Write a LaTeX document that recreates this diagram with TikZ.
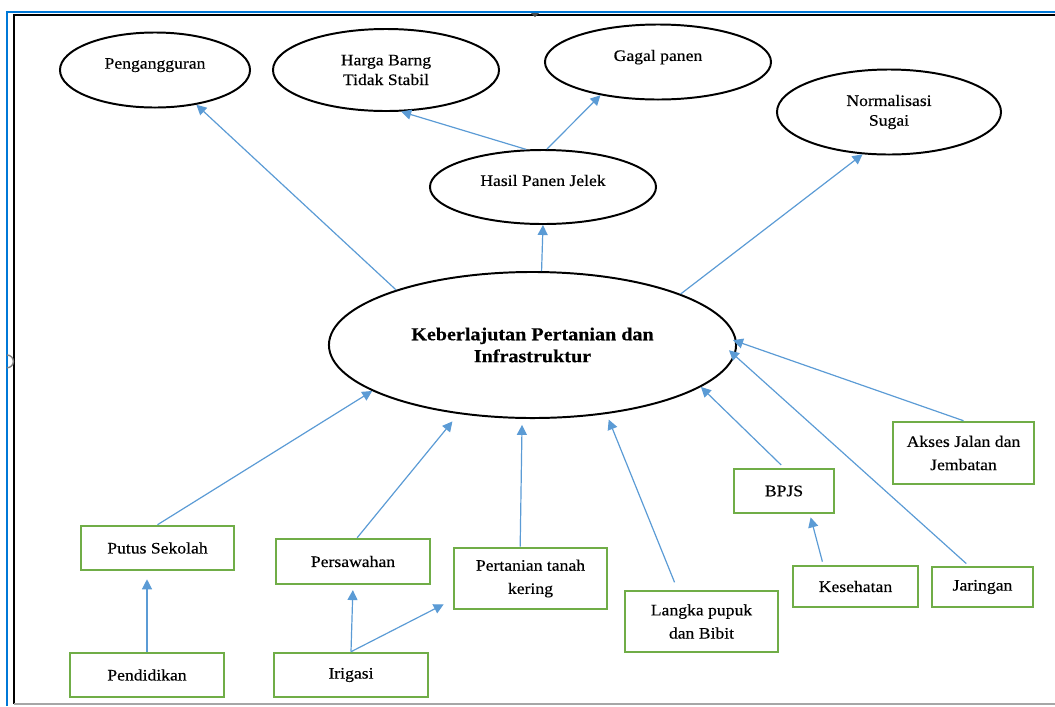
\documentclass[tikz,border=0pt]{standalone}
\usepackage{fontspec}
\setmainfont[FakeStretch=1.1,FakeBold=0.35]{Liberation Serif}
\usetikzlibrary{shapes.geometric,arrows.meta}

\definecolor{linkblue}{HTML}{5B9BD5}
\definecolor{boxgreen}{HTML}{70AD47}
\definecolor{frameblue}{RGB}{0,120,215}

\begin{document}
\begin{tikzpicture}[x=0.025cm,y=-0.025cm]

		\tikzstyle{effect} = [ellipse, draw, line width=1.4pt, align=center, inner sep=0pt, font=\fontsize{11.4}{14}\selectfont]
		
		\tikzstyle{factor} = [rectangle, draw=boxgreen, line width=1.8pt, align=center, inner sep=0pt, font=\fontsize{11.4}{16.5}\selectfont]
		
		\tikzstyle{links} = [-{Triangle[length=0.25cm,width=0.25cm]}, color=linkblue, line width=0.85pt]
		
		\useasboundingbox (0,0) rectangle (1055,706);
		
		% page frame
		\draw[frameblue, line width=1.2pt] (7,706) -- (7,12) -- (1055,12);
		\draw[black, line width=1.1pt] (14,704) -- (14,15) -- (1055,15);
		\draw[gray!70, line width=0.8pt] (14,704) -- (1055,704);
		\fill[gray!60!black] (531,13) -- (539,13) -- (535,17) -- cycle;
		\draw[gray, line width=1pt] (7,355) arc[start angle=90, end angle=-90, radius=0.16cm];
		
		\node[effect, minimum width=4.75cm, minimum height=1.875cm, text depth=0.33cm] at (155,70) (peng) {Pengangguran};
		\node[effect, minimum width=5.65cm, minimum height=2.05cm] at (386,70) (harga) {Harga Barng\\Tidak Stabil};
		\node[effect, minimum width=5.65cm, minimum height=1.875cm, text depth=0.33cm] at (658,62) (gagal) {Gagal panen};
		\node[effect, minimum width=5.6cm, minimum height=2.125cm] at (889,112) (normal) {Normalisasi\\Sugai};
		\node[effect, minimum width=5.65cm, minimum height=1.85cm, text depth=0.33cm] at (543,187) (hasil) {Hasil Panen Jelek};
		
		\node[effect, minimum width=10.175cm, minimum height=3.65cm, font=\bfseries\fontsize{13}{15.6}\selectfont] at (532.5,345) (pusat) {Keberlajutan Pertanian dan\\Infrastruktur};
		
		\node[factor, minimum width=3.825cm, minimum height=1.1cm] at (157.5,548) (putus) {Putus Sekolah};
		\node[factor, minimum width=3.85cm, minimum height=1.125cm] at (353,561.5) (sawah) {Persawahan};
		\node[factor, minimum width=3.825cm, minimum height=1.525cm] at (530.5,578.5) (kering) {Pertanian tanah\\kering};
		\node[factor, minimum width=3.825cm, minimum height=1.525cm] at (701.5,621.5) (pupuk) {Langka pupuk\\dan Bibit};
		\node[factor, minimum width=2.5cm, minimum height=1.1cm] at (784,491) (bpjs) {BPJS};
		\node[factor, minimum width=3.125cm, minimum height=1.025cm] at (855.5,586.5) (sehat) {Kesehatan};
		\node[factor, minimum width=2.525cm, minimum height=1cm] at (982.5,587) (jaringan) {Jaringan};
		\node[factor, minimum width=3.525cm, minimum height=1.55cm] at (963.5,453) (akses) {Akses Jalan dan\\Jembatan};
		\node[factor, minimum width=3.85cm, minimum height=1.1cm] at (147,675) (didik) {Pendidikan};
		\node[factor, minimum width=3.85cm, minimum height=1.1cm] at (351,675) (irigasi) {Irigasi};
		
		\draw[links] (pusat.158) -- (peng.320);
		\draw[links] (pusat.83) -- (hasil.south);
		\draw[links] (pusat.19) -- (normal.238);
		
		\draw[links] (hasil.114) -- (harga.290);
		\draw[links] (hasil.84) -- (gagal.210);
		
		\draw[links] (putus.north) -- (pusat.196);
		\draw[links, shorten >=0.24cm] (sawah.80) -- (pusat.223);
		\draw[links, shorten >=0.15cm] (kering.108) -- (pusat.262);
		\draw[links, shorten <=0.2cm, shorten >=0.15cm] (pupuk.127) -- (pusat.317);
		\draw[links, shorten <=0.1cm] (bpjs.north) -- (pusat.346);
		\draw[links, shorten <=0.08cm, shorten >=-0.2cm] (jaringan.123) -- (pusat.357);
		\draw[links, shorten >=-0.1cm] (akses.north) -- (pusat.1);
		
		\draw[links, shorten >=0.2cm] (didik.north) -- (didik.north |- putus.south);
		\draw[links, shorten >=0.12cm] (irigasi.north) -- (sawah.south);
		\draw[links] (irigasi.north) -- ([shift={(-9,-6)}]kering.south west);
		\draw[links, shorten <=0.08cm, shorten >=0.08cm] (sehat.146) -- (bpjs.318);
	\end{tikzpicture}
\end{document}
